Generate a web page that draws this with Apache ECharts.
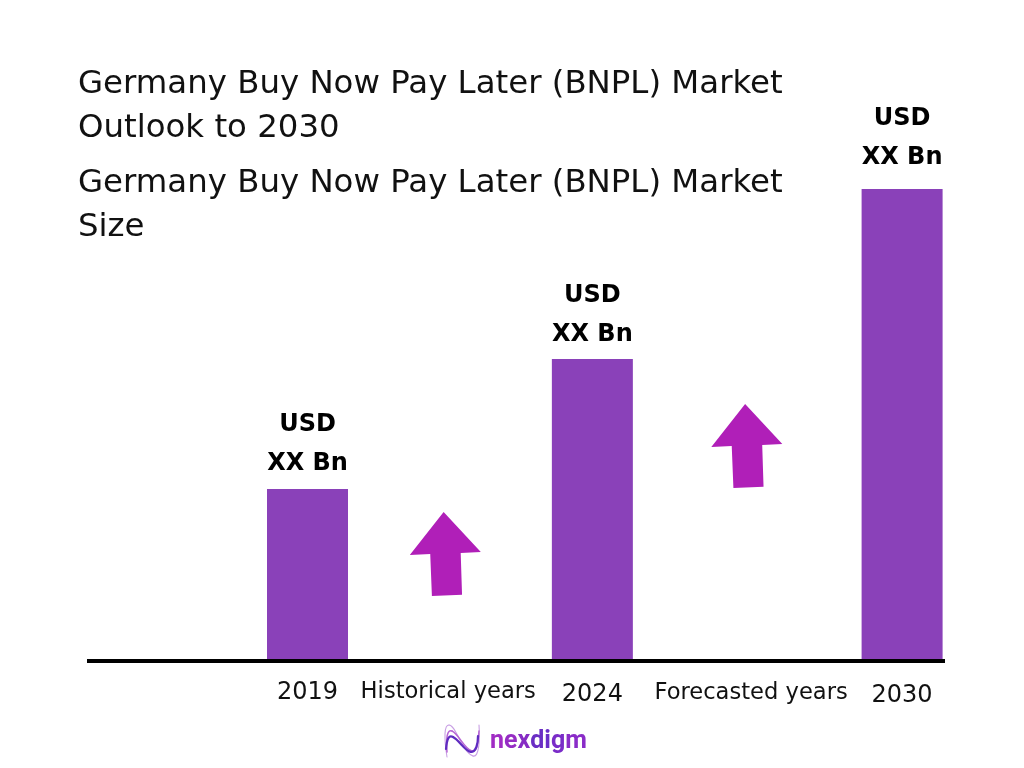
<!DOCTYPE html>
<html>
<head>
<meta charset="utf-8">
<style>
  html, body { margin: 0; padding: 0; background: #fff; }
  #chart { width: 1024px; height: 768px; }
</style>
<script src="https://cdn.jsdelivr.net/npm/echarts@6/dist/echarts.min.js"></script>
</head>
<body>
<div id="chart"></div>
<script>
// chart data
const titleText = 'Germany Buy Now Pay Later (BNPL) Market\nOutlook to 2030';
const subtitleText = 'Germany Buy Now Pay Later (BNPL) Market\nSize';
const years = ['2019', '2024', '2030'];
const barValues = [172, 302, 472];   // no scale printed in the picture
const barLabel = 'USD\nXX Bn';
const periods = ['Historical years', 'Forecasted years'];
const arrowValues = [107, 215];
const logoLetters = ['n', 'e', 'x', 'd', 'i', 'g', 'm'];

// where things sit along the x axis (0-100)
const yearSlots = [25.7, 58.9, 95];
const periodSlots = [42.1, 77.4];
const arrowSlots = [41.76, 76.9];

// small per-item nudges seen in the picture
const barLabelGaps = [6, 5, 12];
const yearDrops = [1, 3, 4];
const periodDrops = [1, 2];
const logoColors = ['#a02cc4', '#962cc4', '#862cc4', '#6a2ec4', '#6a2ec8', '#7a2cc8', '#8a2cc8'];

const FONT = '"DejaVu Sans", sans-serif';
const BAR_COLOR = '#8a41b9';
const ARROW_COLOR = '#b01fb8';
const ARROW_PATH = 'path://M161 363L272 483L212 486L216 611L126 615L121 489L60 492Z';

const slotLabels = {};
const labelRich = {};
years.forEach((y, i) => {
  slotLabels[yearSlots[i]] = '{y' + i + '|' + y + '}';
  labelRich['y' + i] = { fontFamily: FONT, fontSize: 24, color: '#111', padding: [yearDrops[i], 0, 0, 0] };
});
periods.forEach((p, i) => {
  slotLabels[periodSlots[i]] = '{p' + i + '|' + p + '}';
  labelRich['p' + i] = { fontFamily: FONT, fontSize: 22.6, color: '#111', padding: [periodDrops[i], 0, 0, 0] };
});

const logoRich = {};
logoLetters.forEach((l, i) => {
  logoRich['c' + i] = { font: 'bold 25px Roboto, sans-serif', fill: logoColors[i], color: logoColors[i] };
});

// the wave in the logo, three strokes of three segments each
function logoStroke(pts, color, width) {
  const parts = [];
  for (let i = 0; i + 7 < pts.length; i += 6) {
    parts.push({
      type: 'bezierCurve',
      shape: {
        x1: pts[i], y1: pts[i + 1], cpx1: pts[i + 2], cpy1: pts[i + 3],
        cpx2: pts[i + 4], cpy2: pts[i + 5], x2: pts[i + 6], y2: pts[i + 7]
      },
      style: { fill: 'none', stroke: color, lineWidth: width, lineCap: 'round' }
    });
  }
  return parts;
}

const chart = echarts.init(document.getElementById('chart'));

chart.setOption({
  animation: false,
  backgroundColor: '#fff',
  title: [
    { text: titleText, left: 78, top: 63, padding: 0,
      textStyle: { fontFamily: FONT, fontSize: 32.4, fontWeight: 'normal', color: '#111', lineHeight: 44 } },
    { text: subtitleText, left: 78, top: 162, padding: 0,
      textStyle: { fontFamily: FONT, fontSize: 32.4, fontWeight: 'normal', color: '#111', lineHeight: 44 } }
  ],
  grid: { left: 87, top: 161, width: 858, height: 500 },
  xAxis: {
    type: 'value',
    min: 0,
    max: 100,
    z: 3,
    splitLine: { show: false },
    axisTick: { show: false },
    axisLine: { show: true, onZero: false, lineStyle: { color: '#000', width: 4, cap: 'butt' } },
    axisLabel: {
      customValues: yearSlots.concat(periodSlots),
      margin: 18.5,
      formatter: v => slotLabels[v],
      rich: labelRich
    }
  },
  yAxis: { type: 'value', min: 0, max: 500, show: false },
  series: [
    {
      type: 'bar',
      barWidth: 81,
      itemStyle: { color: BAR_COLOR },
      label: {
        show: true,
        position: 'top',
        formatter: barLabel,
        fontFamily: FONT,
        fontSize: 24,
        fontWeight: 'bold',
        lineHeight: 39,
        color: '#000'
      },
      data: barValues.map((v, i) => ({
        value: [yearSlots[i], v],
        label: { distance: barLabelGaps[i] }
      }))
    },
    {
      type: 'scatter',
      symbol: ARROW_PATH,
      symbolSize: [71, 84],
      itemStyle: { color: ARROW_COLOR, opacity: 1 },
      data: arrowValues.map((v, i) => [arrowSlots[i], v])
    }
  ],
  // logo under the chart
  graphic: [
    ...logoStroke([447, 757, 444, 738, 444, 725, 449, 725, 456, 725, 462, 752, 473, 756, 479, 758, 480, 740, 479, 725], '#c9a0e4', 1.1),
    ...logoStroke([447, 752, 446, 738, 447, 729, 452, 731, 459, 734, 464, 749, 472, 751, 478, 752, 478, 740, 479, 731], '#b765d4', 1.5),
    ...logoStroke([446, 749, 447, 738, 449, 735, 453, 737, 459, 740, 465, 751, 471, 752, 476, 752, 478, 744, 478, 736], '#5f2bc0', 2.2),
    {
      type: 'text',
      left: 490,
      top: 729,
      style: {
        text: logoLetters.map((l, i) => '{c' + i + '|' + l + '}').join(''),
        rich: logoRich
      }
    }
  ]
});
</script>
</body>
</html>
